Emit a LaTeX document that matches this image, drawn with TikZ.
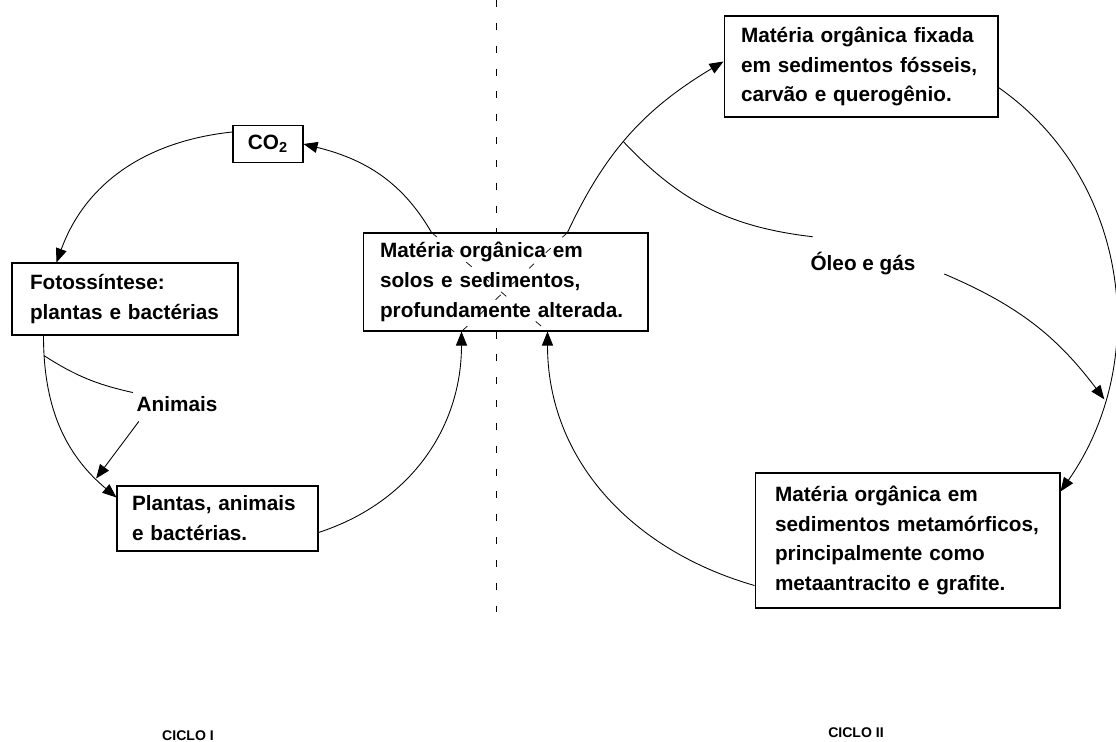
\documentclass[tikz,border=0pt]{standalone}
\usepackage{fontspec}
\setmainfont{Liberation Sans}
\usetikzlibrary{arrows.meta, calc}

\begin{document}
\begin{tikzpicture}[x=0.02cm, y=-0.02cm,
  box/.style={draw, line width=0.6pt, rectangle, inner xsep=0.36cm, inner ysep=0pt,
              align=left, font=\fontsize{11.8}{17}\selectfont\bfseries},
  txt/.style={font=\fontsize{11.8}{17}\selectfont\bfseries, inner sep=2pt},
  cycle/.style={font=\fontsize{8}{10}\selectfont\bfseries},
  arrow/.style={-{Triangle[length=2.8mm, width=2.2mm]}, line width=0.5pt},
  link/.style={line width=0.5pt},
  cross/.style={line width=0.4pt, dash pattern=on 4pt off 9pt},
  divider/.style={line width=0.5pt, dash pattern=on 4pt off 9pt}
]
  \useasboundingbox (0,0) rectangle (1116,742);

  % ciclo I
  \node[box, minimum width=1.4cm, minimum height=0.74cm, inner xsep=0pt, align=center] (co2) at (268,144) {CO\textsubscript{2}};
  \node[box, minimum width=4.52cm, minimum height=1.44cm, text width=3.8cm] (foto) at (125,299) {Fotossíntese:\\plantas e bactérias};
  \node[box, minimum width=4.02cm, minimum height=1.3cm, inner xsep=0.3cm, text width=3.42cm] (plantas) at (217.5,518.5) {Plantas, animais\\e bactérias.};
  \node[box, minimum width=5.7cm, minimum height=1.96cm, inner xsep=0.34cm, text width=5.02cm] (solos) at (505.5,282) {Matéria orgânica em\\solos e sedimentos,\\profundamente alterada.};
  \node[txt] (anim) at (177,404) {Animais};

  % divider
  \coordinate (top) at (496,0);
  \coordinate (bot) at (496,612);
  \draw[divider] (top) -- (top |- solos.north);
  \draw[divider] (top |- solos.south) -- (bot);

  \draw[arrow] ($(co2.north west)+(0,7)$) to[out=186, in=70] ($(foto.north west)+(45,0)$);
  \draw[arrow] ($(foto.south west)+(32,0)$) to[out=270, in=140] coordinate[pos=0.1] (fa) coordinate[pos=0.86] (fb) ($(plantas.north west)+(0,12)$);
  \draw[arrow] ($(plantas.east)+(0,14)$) to[out=18, in=-90] ($(solos.south west)+(99,0)$);
  \draw[arrow] ($(solos.north west)+(69,0)$) to[out=120, in=-14] (co2.east);
  \draw[link] (fa) to[bend right=10] (anim.north west);
  \draw[arrow] ($(anim.south west)+(6,6)$) -- (fb);

  % crossing inside the box
  \draw[cross] ($(solos.north west)+(69,0)$) -- ($(solos.south west)+(185,0)$);
  \draw[cross] ($(solos.north west)+(205,0)$) -- ($(solos.south west)+(99,0)$);

  % ciclo II
  \node[box, minimum width=5.48cm, minimum height=2.02cm, inner xsep=0.34cm, text width=4.8cm] (fixada) at (861,66.5) {Matéria orgânica fixada\\em sedimentos fósseis,\\carvão e querogênio.};
  \node[box, minimum width=6.1cm, minimum height=2.7cm, inner xsep=0.4cm, text width=5.3cm] (metam) at (907.5,540.5) {Matéria orgânica em\\sedimentos metamórficos,\\principalmente como\\metaantracito e grafite.};
  \node[txt] (oleo) at (863,264) {Óleo e gás};

  \draw[arrow] ($(solos.north west)+(205,0)$) to[out=65, in=211] coordinate[pos=0.45] (br) ($(fixada.north west)+(0,46)$);
  \draw[link] (br) to[bend right=20] ($(oleo.north west)+(6,-12)$);
  \draw[arrow] ($(fixada.east)+(0,21)$) to[out=-35, in=55] coordinate[pos=0.78] (oa) ($(metam.north east)+(0,19)$);
  \draw[arrow] ($(oleo.east)+(25,10)$) to[bend left=15] (oa);
  \draw[arrow] ($(metam.south west)+(0,-23)$) to[out=164, in=-90] ($(solos.south west)+(185,0)$);

  \node[cycle] (c1) at (188,736) {CICLO I};
  \node[cycle] (c2) at (856,733) {CICLO II};
\end{tikzpicture}
\end{document}
